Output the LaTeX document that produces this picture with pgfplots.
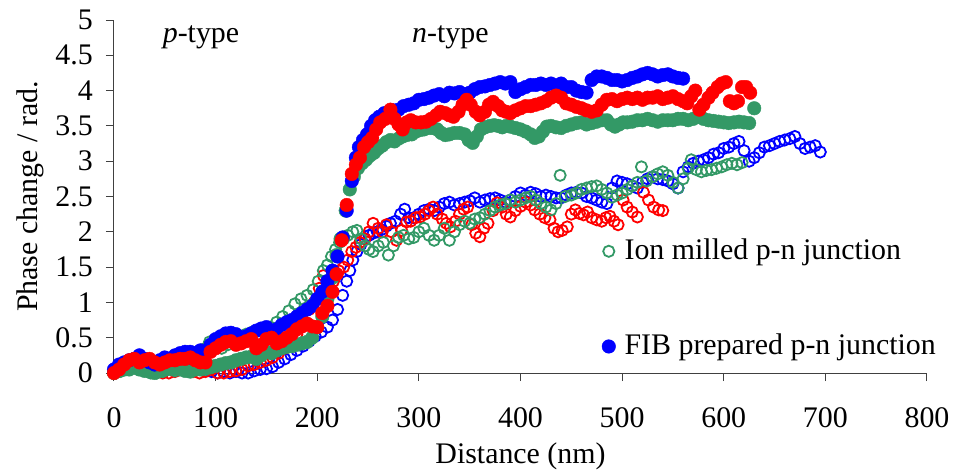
\documentclass[border=0pt]{standalone}
\usepackage{pgfplots}
\pgfplotsset{compat=1.18}
\usepackage{fontspec}
\setmainfont{Liberation Serif}
\definecolor{sgreen}{RGB}{51,153,102}
\begin{document}
\fontsize{30}{36}\selectfont
\begin{tikzpicture}
\begin{axis}[
  name=ax,
  scale only axis, width=813bp, height=353bp,
  xmin=0, xmax=800, ymin=0, ymax=5,
  axis x line=bottom, axis y line=left,
  axis line style={-, black!75, line width=1bp},
  xtick={0,100,...,800},
  ytick={0,0.5,1,1.5,2,2.5,3,3.5,4,4.5,5},
  tick align=outside, major tick length=8bp,
  tick style={black!75, line width=1bp},
  /pgf/number format/assume math mode=true,
  xticklabel style={yshift=-16bp},
  yticklabel style={xshift=-3bp},
  clip=false,
  xlabel={Distance (nm)},
  ylabel={Phase change / rad.},
  xlabel style={at={(axis description cs:0.5,-0.255)}, anchor=base},
  ylabel style={at={(axis description cs:-0.0947,0.5)}, anchor=base},
  legend style={draw=none, fill=none, inner sep=0pt, at={(axis cs:480,1.05)}, anchor=west, row sep=66bp, font=\fontsize{30}{36}\selectfont,
    /tikz/every odd column/.append style={column sep=7bp}},
  legend cell align=left,
]
\coordinate (O) at (axis cs:0,0);
% open blue
\addplot[only marks, mark=o, mark size=5.6bp, mark options={draw=blue, line width=1.8bp}, forget plot] coordinates {
(0,0.05)(6,0.08)(12,0.1)(18,0.12)(24,0.1)(30,0.08)(36,0.05)(42,0.05)(48,0.08)(54,0.1)(60,0.12)(66,0.1)(72,0.08)(78,0.06)(84,0.05)(90,0.03)(96,0.02)(102,0.0)(108,0.02)(114,0.0)(120,0.02)(126,0.0)(132,0.0)(138,0.03)(144,0.05)(150,0.06)(156,0.09)(162,0.15)(168,0.2)(174,0.26)(180,0.32)(186,0.38)(192,0.45)(198,0.52)(204,0.58)(210,0.65)(215,0.75)(220,0.9)(225,1.1)(229,1.3)(232,1.45)(235,1.6)(239,1.72)(243,1.82)(247,1.9)(251,1.95)(255,1.98)(259,2.0)(263,2.03)(268,2.08)(272,2.12)(277,2.15)(282,2.25)(286,2.32)(290,2.2)(295,2.2)(300,2.25)(305,2.3)(310,2.32)(315,2.3)(320,2.35)(325,2.4)(330,2.42)(335,2.38)(340,2.4)(345,2.42)(350,2.44)(355,2.48)(360,2.42)(365,2.45)(370,2.47)(375,2.48)(380,2.45)(385,2.42)(390,2.45)(395,2.5)(400,2.55)(405,2.52)(410,2.56)(415,2.54)(420,2.5)(425,2.52)(430,2.5)(435,2.48)(440,2.48)(445,2.52)(450,2.55)(455,2.56)(460,2.55)(465,2.5)(470,2.48)(475,2.45)(480,2.42)(485,2.4)(490,2.62)(495,2.72)(500,2.7)(505,2.68)(510,2.65)(515,2.62)(520,2.7)(525,2.75)(530,2.78)(535,2.75)(540,2.74)(545,2.72)(550,2.68)(555,2.62)(560,2.85)(565,2.92)(570,2.97)(575,3.0)(580,3.02)(585,3.05)(590,3.1)(595,3.12)(600,3.18)(605,3.2)(610,3.25)(615,3.28)(620,3.15)(625,3.0)(630,3.05)(635,3.12)(640,3.2)(645,3.22)(650,3.25)(655,3.28)(660,3.3)(665,3.32)(670,3.35)(675,3.25)(680,3.18)(685,3.2)(690,3.22)(695,3.13)
};
% open red
\addplot[only marks, mark=o, mark size=5.6bp, mark options={draw=red, line width=1.8bp}, forget plot] coordinates {
(0,0.0)(6,0.05)(12,0.1)(18,0.12)(24,0.1)(30,0.08)(36,0.05)(42,0.05)(48,0.0)(54,0.0)(60,0.02)(66,0.05)(72,0.03)(78,0.02)(84,0.0)(90,0.02)(96,0.05)(102,0.0)(108,0.0)(114,0.02)(120,0.03)(126,0.05)(132,0.1)(138,0.12)(144,0.15)(150,0.18)(156,0.22)(162,0.28)(168,0.35)(174,0.42)(180,0.55)(186,0.7)(192,0.9)(197,1.0)(202,1.2)(206,1.38)(211,1.25)(216,1.3)(221,1.45)(226,1.5)(230,1.6)(234,1.72)(238,1.78)(242,1.85)(247,1.9)(251,2.0)(255,2.12)(260,2.05)(264,2.0)(268,2.1)(273,2.0)(278,1.88)(283,2.02)(288,2.14)(292,2.15)(297,2.2)(301,2.21)(306,2.25)(310,2.3)(314,2.35)(318,2.25)(323,2.18)(327,2.12)(331,2.07)(336,2.15)(340,2.25)(344,2.32)(348,2.35)(352,2.1)(356,1.98)(360,1.93)(364,2.05)(368,2.12)(373,2.3)(377,2.41)(382,2.35)(386,2.25)(390,2.21)(395,2.3)(400,2.36)(405,2.42)(410,2.38)(414,2.31)(419,2.25)(424,2.2)(429,2.17)(433,2.05)(437,2.0)(441,2.02)(446,2.07)(450,2.25)(454,2.31)(458,2.26)(462,2.24)(466,2.28)(470,2.2)(475,2.17)(480,2.15)(484,2.2)(488,2.22)(492,2.15)(496,2.1)(501,2.45)(505,2.35)(510,2.28)(515,2.21)(521,2.56)(526,2.45)(531,2.35)(536,2.31)(540,2.3)
};
% open green
\addplot[only marks, mark=o, mark size=5.6bp, mark options={draw=sgreen, line width=1.8bp}] coordinates {
(0,0.0)(6,0.02)(12,0.05)(18,0.08)(24,0.05)(30,0.03)(36,0.0)(42,0.0)(48,0.02)(54,0.05)(60,0.03)(66,0.05)(72,0.08)(78,0.12)(84,0.25)(90,0.35)(94,0.44)(100,0.38)(106,0.35)(112,0.4)(118,0.45)(124,0.5)(130,0.55)(136,0.58)(142,0.6)(148,0.62)(154,0.65)(160,0.72)(166,0.8)(172,0.88)(178,0.98)(184,1.05)(190,1.1)(196,1.18)(201,1.3)(206,1.45)(210,1.53)(214,1.65)(218,1.75)(222,1.85)(226,1.9)(230,1.95)(235,2.0)(239,2.02)(243,1.9)(247,1.8)(251,1.75)(255,1.72)(260,1.8)(265,1.85)(270,1.67)(275,1.8)(280,1.92)(285,1.95)(290,1.9)(295,1.92)(300,2.0)(305,2.05)(310,1.95)(315,1.88)(320,1.95)(325,2.05)(330,1.88)(335,2.0)(340,2.1)(345,2.15)(350,2.12)(355,2.18)(360,2.2)(365,2.25)(370,2.3)(375,2.35)(380,2.38)(385,2.4)(390,2.45)(395,2.42)(400,2.45)(405,2.48)(410,2.5)(415,2.45)(420,2.4)(425,2.35)(430,2.31)(435,2.4)(439,2.8)(444,2.5)(450,2.52)(455,2.55)(460,2.6)(465,2.62)(470,2.64)(475,2.65)(480,2.6)(485,2.55)(490,2.49)(495,2.52)(500,2.55)(505,2.6)(510,2.65)(515,2.7)(519,2.92)(524,2.72)(530,2.78)(535,2.82)(540,2.85)(545,2.8)(550,2.7)(555,2.62)(560,2.75)(565,2.9)(568,3.02)(573,2.88)(578,2.85)(583,2.87)(588,2.88)(593,2.9)(598,2.92)(603,2.95)(608,2.97)(613,2.95)(618,2.98)
};
% filled green
\addplot[only marks, mark=*, mark size=6.8bp, mark options={draw=sgreen, fill=sgreen, line width=0.4bp}, forget plot] coordinates {
(0,0.0)(5,0.03)(10,0.05)(15,0.05)(20,0.08)(25,0.05)(30,0.03)(35,0.02)(40,0.0)(45,0.05)(50,0.05)(55,0.08)(60,0.06)(65,0.05)(70,0.03)(75,0.02)(80,0.05)(85,0.05)(90,0.06)(95,0.08)(100,0.1)(105,0.12)(110,0.14)(115,0.15)(120,0.18)(125,0.2)(130,0.22)(135,0.23)(140,0.2)(145,0.25)(150,0.3)(155,0.28)(160,0.32)(165,0.35)(170,0.37)(175,0.38)(180,0.4)(185,0.42)(190,0.44)(195,0.5)(200,0.65)(205,0.8)(210,1.05)(215,1.35)(219,1.67)(223,1.9)(228,2.3)(232,2.6)(236,2.78)(240,2.9)(244,2.97)(248,3.02)(252,3.08)(256,3.12)(260,3.18)(264,3.22)(268,3.27)(272,3.3)(276,3.28)(280,3.32)(284,3.35)(288,3.37)(293,3.38)(297,3.42)(301,3.44)(305,3.45)(310,3.47)(314,3.47)(318,3.45)(322,3.4)(326,3.37)(330,3.38)(335,3.4)(340,3.4)(345,3.38)(349,3.3)(353,3.26)(357,3.35)(361,3.45)(365,3.48)(370,3.5)(374,3.51)(378,3.5)(382,3.48)(386,3.5)(390,3.49)(395,3.47)(400,3.45)(405,3.42)(410,3.38)(414,3.33)(418,3.35)(422,3.42)(426,3.49)(430,3.5)(435,3.48)(440,3.47)(445,3.5)(450,3.52)(455,3.54)(460,3.55)(465,3.52)(470,3.54)(475,3.56)(480,3.58)(485,3.58)(489,3.52)(493,3.49)(497,3.52)(501,3.55)(505,3.55)(510,3.56)(515,3.58)(520,3.58)(525,3.6)(530,3.58)(535,3.56)(540,3.58)(545,3.58)(550,3.58)(555,3.6)(560,3.6)(565,3.58)(570,3.6)(575,3.63)(580,3.6)(585,3.58)(590,3.57)(595,3.56)(600,3.55)(605,3.54)(610,3.55)(615,3.56)(620,3.55)(625,3.54)(630,3.75)
};
% filled blue
\addplot[only marks, mark=*, mark size=6.8bp, mark options={draw=blue, fill=blue, line width=0.4bp}] coordinates {
(0,0.05)(5,0.12)(10,0.15)(15,0.18)(20,0.2)(25,0.25)(30,0.2)(35,0.15)(40,0.12)(45,0.18)(50,0.22)(55,0.2)(60,0.25)(65,0.28)(70,0.3)(75,0.3)(80,0.28)(85,0.32)(90,0.3)(95,0.4)(100,0.48)(105,0.52)(110,0.56)(115,0.57)(120,0.55)(125,0.5)(130,0.52)(135,0.56)(140,0.6)(145,0.63)(150,0.65)(155,0.6)(160,0.62)(165,0.68)(170,0.72)(175,0.75)(180,0.8)(185,0.85)(190,0.9)(195,0.95)(200,1.05)(205,1.15)(210,1.3)(215,1.45)(220,1.65)(225,1.92)(229,2.3)(234,2.72)(238,3.05)(241,3.2)(245,3.3)(249,3.38)(253,3.5)(257,3.58)(261,3.63)(266,3.68)(270,3.7)(275,3.72)(280,3.73)(285,3.78)(290,3.8)(295,3.82)(300,3.87)(305,3.88)(310,3.9)(315,3.93)(320,3.95)(325,3.92)(330,3.97)(335,3.96)(340,3.98)(345,3.95)(350,3.97)(355,4.02)(360,4.05)(365,4.06)(370,4.08)(375,4.1)(380,4.12)(385,4.1)(390,4.12)(395,3.98)(400,4.02)(405,4.05)(410,4.08)(415,4.08)(420,4.1)(425,4.08)(430,4.1)(435,4.07)(440,4.1)(445,4.05)(450,4.05)(455,4.0)(460,3.98)(465,3.97)(470,4.15)(475,4.2)(480,4.2)(485,4.18)(490,4.15)(495,4.15)(500,4.13)(505,4.15)(510,4.18)(515,4.2)(520,4.23)(525,4.25)(530,4.23)(535,4.2)(540,4.22)(545,4.23)(550,4.2)(555,4.18)(560,4.17)
};
% filled red
\addplot[only marks, mark=*, mark size=6.8bp, mark options={draw=red, fill=red, line width=0.4bp}, forget plot] coordinates {
(0,0.0)(5,0.05)(10,0.12)(15,0.18)(20,0.2)(25,0.15)(30,0.18)(35,0.2)(40,0.15)(45,0.12)(50,0.15)(55,0.18)(60,0.18)(65,0.2)(70,0.2)(75,0.22)(80,0.18)(85,0.15)(90,0.15)(95,0.3)(100,0.35)(105,0.4)(110,0.44)(115,0.45)(120,0.4)(125,0.42)(130,0.45)(135,0.48)(140,0.35)(145,0.4)(150,0.48)(155,0.5)(160,0.42)(165,0.45)(170,0.5)(175,0.55)(180,0.62)(185,0.66)(190,0.7)(195,0.66)(200,0.65)(205,0.85)(210,0.95)(215,1.15)(219,1.4)(224,1.88)(229,2.38)(234,2.82)(238,2.95)(242,3.05)(246,3.2)(250,3.27)(254,3.33)(258,3.45)(262,3.55)(267,3.6)(272,3.73)(276,3.6)(280,3.52)(284,3.45)(288,3.55)(292,3.58)(297,3.55)(302,3.55)(307,3.56)(312,3.6)(317,3.65)(321,3.7)(326,3.68)(330,3.65)(334,3.63)(339,3.7)(343,3.8)(347,3.87)(351,3.8)(356,3.7)(360,3.65)(365,3.7)(369,3.8)(373,3.84)(378,3.78)(382,3.72)(386,3.7)(390,3.68)(395,3.72)(400,3.75)(405,3.78)(410,3.78)(415,3.8)(420,3.82)(425,3.85)(430,3.9)(435,3.93)(440,3.9)(445,3.82)(450,3.8)(455,3.77)(460,3.75)(465,3.72)(470,3.7)(475,3.72)(480,3.8)(485,3.87)(490,3.88)(495,3.85)(500,3.88)(505,3.9)(510,3.88)(515,3.9)(520,3.87)(525,3.9)(530,3.9)(535,3.92)(540,3.88)(545,3.9)(550,3.92)(555,3.88)(560,3.85)(564,3.82)(568,3.92)(572,4.0)(576,3.73)(580,3.8)(585,3.9)(589,3.97)(594,4.05)(598,4.1)(602,4.12)(606,3.85)(610,3.82)(614,3.85)(618,4.05)(622,4.05)(626,3.97)
};
\legend{Ion milled p-n junction, FIB prepared p-n junction}
\node at (axis cs:85.6,4.76) {\textit{p}-type};
\node at (axis cs:331,4.76) {\textit{n}-type};
\end{axis}
\pgfresetboundingbox
\path ([shift={(-114bp,-101bp)}]O) rectangle ([shift={(840bp,373bp)}]O);
\end{tikzpicture}
\end{document}
